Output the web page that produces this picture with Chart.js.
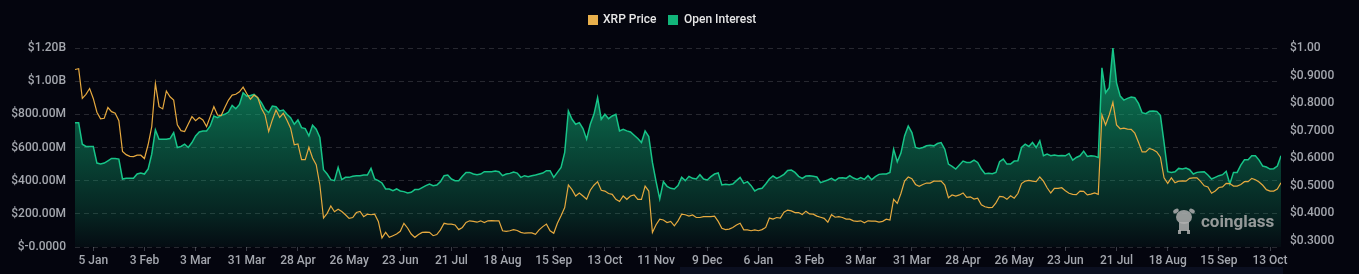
<!DOCTYPE html>
<html>
<head>
<meta charset="utf-8">
<script src="https://cdn.jsdelivr.net/npm/chart.js@4.4.1/dist/chart.umd.min.js"></script>
<style>
  html, body { margin: 0; padding: 0; background: #04050e; }
  canvas { display: block; }
</style>
</head>
<body>
<canvas id="myChart" width="1359" height="274"></canvas>
<script>
// x tick labels, one every 14 samples (samples are 2 days apart)
const tickLabels = ['5 Jan', '3 Feb', '3 Mar', '31 Mar', '28 Apr', '26 May', '23 Jun', '21 Jul', '18 Aug', '15 Sep', '13 Oct', '11 Nov',
  '9 Dec', '6 Jan', '3 Feb', '3 Mar', '31 Mar', '28 Apr', '26 May', '23 Jun', '21 Jul', '18 Aug', '15 Sep', '13 Oct'];
const firstTick = 5;
const tickStep = 14;

// open interest, millions of USD
const openInterest = [
  750, 750, 620, 606, 606, 606, 506, 500, 506, 520,
  534, 534, 530, 410, 414, 414, 414, 440, 446, 440,
  470, 560, 706, 650, 650, 650, 654, 690, 600, 606,
  620, 600, 630, 670, 694, 700, 700, 730, 790, 780,
  794, 800, 814, 854, 834, 860, 930, 910, 914, 920,
  900, 870, 830, 810, 850, 846, 820, 826, 800, 780,
  740, 766, 720, 714, 670, 734, 710, 660, 466, 440,
  406, 400, 480, 406, 420, 420, 426, 430, 430, 434,
  434, 474, 410, 400, 386, 350, 350, 340, 350, 338,
  334, 326, 330, 346, 346, 358, 370, 380, 370, 374,
  394, 430, 434, 410, 400, 400, 426, 450, 450, 440,
  436, 440, 454, 454, 454, 458, 454, 430, 440, 444,
  452, 446, 420, 430, 424, 430, 434, 440, 446, 460,
  460, 420, 450, 480, 570, 820, 770, 740, 750, 714,
  650, 740, 800, 900, 770, 800, 774, 790, 800, 700,
  710, 700, 694, 674, 654, 630, 700, 666, 510, 394,
  290, 394, 366, 354, 350, 370, 420, 400, 426, 414,
  410, 436, 410, 404, 424, 440, 446, 374, 378, 376,
  380, 400, 420, 384, 394, 370, 338, 350, 354, 380,
  410, 428, 414, 424, 438, 462, 464, 450, 426, 414,
  428, 430, 426, 422, 388, 396, 404, 414, 400, 416,
  418, 414, 430, 416, 408, 418, 408, 430, 406, 424,
  438, 440, 440, 450, 590, 514, 566, 670, 730, 690,
  600, 594, 600, 610, 614, 610, 624, 630, 590, 500,
  486, 470, 494, 518, 510, 510, 524, 510, 470, 442,
  444, 442, 450, 514, 530, 500, 500, 518, 520, 600,
  620, 606, 630, 600, 640, 550, 560, 550, 554, 550,
  552, 550, 564, 524, 540, 550, 578, 546, 550, 548,
  540, 1080, 930, 960, 1200, 990, 910, 886, 896, 904,
  900, 866, 810, 804, 818, 820, 818, 794, 630, 454,
  450, 454, 474, 470, 476, 466, 440, 450, 452, 454,
  434, 410, 420, 430, 436, 456, 380, 450, 450, 494,
  526, 526, 550, 550, 524, 488, 482, 470, 472, 488,
  550
];

// XRP price, USD
const xrpPrice = [
  0.922, 0.925, 0.817, 0.832, 0.853, 0.817, 0.767, 0.743, 0.745, 0.784,
  0.769, 0.763, 0.736, 0.625, 0.613, 0.607, 0.606, 0.611, 0.611, 0.599,
  0.649, 0.715, 0.871, 0.787, 0.779, 0.844, 0.823, 0.811, 0.721, 0.700,
  0.697, 0.724, 0.751, 0.736, 0.748, 0.739, 0.715, 0.751, 0.787, 0.757,
  0.755, 0.784, 0.811, 0.829, 0.832, 0.841, 0.858, 0.835, 0.814, 0.829,
  0.820, 0.781, 0.757, 0.697, 0.739, 0.775, 0.748, 0.763, 0.738, 0.709,
  0.649, 0.652, 0.595, 0.595, 0.640, 0.601, 0.577, 0.503, 0.383, 0.400,
  0.427, 0.406, 0.415, 0.407, 0.395, 0.382, 0.385, 0.403, 0.407, 0.388,
  0.397, 0.395, 0.397, 0.371, 0.311, 0.331, 0.313, 0.319, 0.325, 0.335,
  0.364, 0.347, 0.325, 0.313, 0.323, 0.331, 0.332, 0.331, 0.319, 0.323,
  0.340, 0.364, 0.361, 0.361, 0.358, 0.341, 0.349, 0.367, 0.373, 0.371,
  0.368, 0.373, 0.367, 0.373, 0.374, 0.373, 0.373, 0.337, 0.335, 0.337,
  0.341, 0.338, 0.331, 0.328, 0.329, 0.329, 0.324, 0.340, 0.352, 0.361,
  0.337, 0.328, 0.364, 0.391, 0.421, 0.503, 0.486, 0.463, 0.474, 0.463,
  0.451, 0.484, 0.502, 0.515, 0.484, 0.481, 0.472, 0.469, 0.451, 0.443,
  0.463, 0.451, 0.463, 0.467, 0.451, 0.451, 0.499, 0.481, 0.331, 0.359,
  0.379, 0.376, 0.367, 0.371, 0.355, 0.373, 0.397, 0.395, 0.390, 0.394,
  0.385, 0.385, 0.388, 0.388, 0.388, 0.390, 0.371, 0.346, 0.341, 0.343,
  0.349, 0.358, 0.364, 0.340, 0.340, 0.337, 0.340, 0.337, 0.341, 0.349,
  0.383, 0.379, 0.385, 0.383, 0.404, 0.412, 0.409, 0.403, 0.403, 0.396,
  0.408, 0.398, 0.397, 0.390, 0.386, 0.382, 0.368, 0.395, 0.386, 0.388,
  0.385, 0.379, 0.379, 0.373, 0.371, 0.373, 0.366, 0.373, 0.372, 0.372,
  0.368, 0.371, 0.379, 0.376, 0.451, 0.436, 0.472, 0.517, 0.532, 0.526,
  0.505, 0.498, 0.505, 0.510, 0.510, 0.517, 0.517, 0.517, 0.503, 0.457,
  0.467, 0.463, 0.467, 0.474, 0.458, 0.460, 0.452, 0.455, 0.431, 0.424,
  0.421, 0.422, 0.438, 0.462, 0.460, 0.451, 0.464, 0.455, 0.472, 0.508,
  0.517, 0.520, 0.517, 0.515, 0.532, 0.517, 0.493, 0.474, 0.491, 0.491,
  0.493, 0.482, 0.473, 0.469, 0.468, 0.481, 0.480, 0.467, 0.470, 0.474,
  0.469, 0.757, 0.721, 0.757, 0.803, 0.721, 0.707, 0.709, 0.706, 0.705,
  0.691, 0.658, 0.623, 0.623, 0.636, 0.631, 0.623, 0.604, 0.529, 0.509,
  0.529, 0.511, 0.517, 0.518, 0.517, 0.527, 0.529, 0.529, 0.516, 0.500,
  0.496, 0.473, 0.481, 0.494, 0.496, 0.509, 0.508, 0.499, 0.499, 0.505,
  0.515, 0.515, 0.527, 0.522, 0.514, 0.502, 0.486, 0.481, 0.481, 0.488,
  0.511
];

const days = openInterest.map((_, i) => i);
const priceTicks = [0.3, 0.4, 0.5, 0.6, 0.7, 0.8, 0.9, 1.0];

const axisFont = { family: 'Roboto', size: 12, weight: '500' };
const axisColor = '#a4a7ae';

// page background, the strip under the axis and the coinglass mark
const decor = {
  id: 'decor',
  beforeDraw(chart) {
    const c = chart.ctx;
    c.save();
    c.fillStyle = '#04050e';
    c.fillRect(0, 0, chart.width, chart.height);
    c.fillStyle = '#0b0f20';
    c.fillRect(680, 267, 603, 7);
    c.restore();
  },
  afterDraw(chart) {
    const c = chart.ctx;
    c.save();
    // legend
    c.font = '500 12px Roboto';
    c.textBaseline = 'middle';
    c.fillStyle = '#e8b04c';
    c.fillRect(588, 15, 10, 10);
    c.fillStyle = '#e6e6e6';
    c.fillText('XRP Price', 603, 20);
    c.fillStyle = '#12b57a';
    c.fillRect(668, 15, 10, 10);
    c.fillStyle = '#e6e6e6';
    c.fillText('Open Interest', 684, 20);
    // watermark
    c.fillStyle = 'rgba(175,175,175,0.85)';
    c.beginPath();
    c.ellipse(1184, 217, 8, 7, 0, 0, Math.PI * 2);
    c.fill();
    c.beginPath();
    c.ellipse(1176, 211, 3, 2, -0.5, 0, Math.PI * 2);
    c.ellipse(1192, 211, 3, 2, 0.5, 0, Math.PI * 2);
    c.fill();
    c.fillRect(1179, 222, 10, 9);
    c.fillRect(1178, 230, 3, 4);
    c.fillRect(1187, 230, 3, 4);
    c.font = 'bold 17px Roboto';
    c.textBaseline = 'alphabetic';
    c.fillText('coinglass', 1201, 227);
    c.restore();
  }
};

new Chart('myChart', {
  type: 'line',
  data: {
    labels: days,
    datasets: [{
      label: 'XRP Price',
      data: xrpPrice,
      yAxisID: 'y1',
      borderColor: '#e6a93f',
      borderWidth: 1.2,
      pointRadius: 0,
      fill: false,
      tension: 0
    }, {
      label: 'Open Interest',
      data: openInterest,
      yAxisID: 'y',
      borderColor: '#17c488',
      borderWidth: 1.5,
      pointRadius: 0,
      fill: 'origin',
      tension: 0,
      backgroundColor: (ctx) => {
        const area = ctx.chart.chartArea;
        if (!area) return 'rgba(16,185,125,0.3)';
        const g = ctx.chart.ctx.createLinearGradient(0, area.top, 0, area.bottom);
        g.addColorStop(0, 'rgba(16,185,125,0.72)');
        g.addColorStop(0.5, 'rgba(16,185,125,0.38)');
        g.addColorStop(0.85, 'rgba(16,185,125,0.16)');
        g.addColorStop(1, 'rgba(16,185,125,0.04)');
        return g;
      }
    }]
  },
  options: {
    responsive: false,
    animation: false,
    devicePixelRatio: 1,
    layout: { padding: { top: 48, left: 0, right: 0, bottom: 0 } },
    plugins: {
      legend: { display: false },
      tooltip: { enabled: false }
    },
    scales: {
      x: {
        type: 'linear',
        min: 0,
        max: days.length - 1,
        afterBuildTicks: (axis) => {
          axis.ticks = tickLabels.map((_, k) => ({ value: firstTick + k * tickStep }));
        },
        afterFit: (axis) => { axis.height = 27; },
        ticks: {
          autoSkip: false,
          maxRotation: 0,
          padding: 3,
          color: axisColor,
          font: axisFont,
          callback: (v) => tickLabels[Math.round((v - firstTick) / tickStep)]
        },
        grid: { drawOnChartArea: false, drawTicks: true, tickLength: 4, color: '#3a3d46' },
        border: { display: false }
      },
      y: {
        position: 'left',
        min: 0,
        max: 1200,
        afterFit: (axis) => { axis.width = 75; },
        ticks: {
          stepSize: 200,
          padding: 9,
          color: axisColor,
          font: axisFont,
          callback: (v) => {
            if (v === 0) return '$-0.0000';
            if (v >= 1000) return '$' + (v / 1000).toFixed(2) + 'B';
            return '$' + v.toFixed(2) + 'M';
          }
        },
        grid: { color: 'rgba(255,255,255,0.14)', drawTicks: false },
        border: { display: false, dash: [5, 4] }
      },
      y1: {
        position: 'right',
        min: 0.278,
        max: 1.0,
        afterBuildTicks: (axis) => {
          axis.ticks = priceTicks.map((v) => ({ value: v }));
        },
        afterFit: (axis) => { axis.width = 78; },
        ticks: {
          padding: 9,
          color: axisColor,
          font: axisFont,
          callback: (v) => v >= 1 ? '$1.00' : '$' + v.toFixed(4)
        },
        grid: { drawOnChartArea: false, drawTicks: false },
        border: { display: false }
      }
    }
  },
  plugins: [decor]
});
</script>
</body>
</html>
